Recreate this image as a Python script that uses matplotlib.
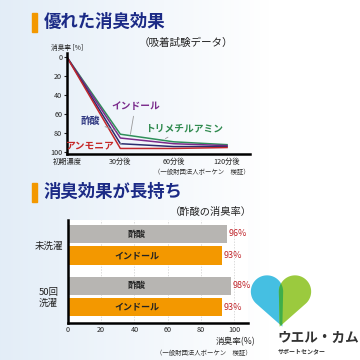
import numpy as np
import matplotlib
matplotlib.use("Agg")
import matplotlib.pyplot as plt
from matplotlib.patches import Rectangle, Polygon

plt.rcParams['font.family'] = ['Noto Sans CJK JP', 'DejaVu Sans']

# data: line chart (消臭率 %)
times = ['初期濃度', '30分後', '60分後', '120分後']
trimethylamine = [0, 81, 89, 92]
indole = [0, 85, 91, 93]
acetic = [0, 91, 94, 94]
ammonia = [0, 96, 96, 95]

# data: bar chart
groups = ['未洗濯', '50回\n洗濯']
gases = ['酢酸', 'インドール']
rates = [[96, 93], [98, 93]]

W = H = 360.0
fig = plt.figure(figsize=(3.6, 3.6), dpi=100)


def box(x0, y0, x1, y1):
    # pixel box (top-left origin) -> figure fraction
    return [x0 / W, 1 - y1 / H, (x1 - x0) / W, (y1 - y0) / H]


# background
bg = fig.add_axes([0, 0, 1, 1], zorder=-10)
grad = np.linspace(0, 1, 256)[None, :]
c0 = np.array([0.89, 0.93, 0.97])
c1 = np.array([1.0, 1.0, 1.0])
img = c0[None, None, :] * (1 - grad[..., None]) + c1[None, None, :] * grad[..., None]
bg.imshow(img, extent=[0, 270, 360, 0], aspect='auto')
bg.set_xlim(0, 360)
bg.set_ylim(360, 0)
bg.axis('off')

navy = '#1b2a86'
orange = '#f39800'
bg.add_patch(Rectangle((32, 13), 5, 19, color=orange))
bg.add_patch(Rectangle((32, 183), 5, 19, color=orange))
bg.text(44, 22, '優れた消臭効果', fontsize=12.5, fontweight='bold', color=navy, va='center')
bg.text(44, 192, '消臭効果が長持ち', fontsize=12.5, fontweight='bold', color=navy, va='center')
bg.text(139, 43, '（吸着試験データ）', fontsize=7.6, color='#222222', va='center')
bg.text(252, 212, '（酢酸の消臭率）', fontsize=7.4, color='#222222', va='center', ha='right')
bg.text(250, 172, '（一般財団法人ボーケン　検証）', fontsize=4.6, color='#333333', va='center', ha='right')
bg.text(252, 353, '（一般財団法人ボーケン　検証）', fontsize=4.6, color='#333333', va='center', ha='right')
bg.text(67, 48, '消臭率 [%]', fontsize=4.8, color='#222222', va='center', ha='center')
bg.text(255, 342, '消臭率(%)', fontsize=6.2, color='#222222', va='center', ha='right')

# ---- line chart ----
ax = fig.add_axes(box(67, 53, 250, 153.5))
ax.set_facecolor('none')
x = np.arange(len(times))
series = [
    (trimethylamine, '#2f8f5a'),
    (indole, '#7a2a8a'),
    (acetic, '#2b2d6e'),
    (ammonia, '#c1272d'),
]
for vals, col in series:
    ax.plot(x, vals, color=col, lw=1.1)
ax.set_xlim(0, 3.43)
ax.set_ylim(101.3, -4.5)
ax.set_yticks([0, 20, 40, 60, 80, 100])
ax.set_xticks(x)
ax.set_xticklabels(times)
ax.tick_params(axis='both', labelsize=5.2, length=2, width=0.8, pad=1.5, colors='#222222')
ax.tick_params(axis='x', length=0, pad=3)
for s in ['top', 'right']:
    ax.spines[s].set_visible(False)
for s in ['left', 'bottom']:
    ax.spines[s].set_linewidth(1.8)

lead = dict(arrowstyle='-', color='#999999', lw=0.6)
ax.annotate('インドール', xy=(1.18, 84), xytext=(1.28, 51), fontsize=7, fontweight='bold',
            color='#7b2c8c', ha='center', va='center', arrowprops=lead)
ax.annotate('酢酸', xy=(0.95, 78), xytext=(0.43, 67), fontsize=7, fontweight='bold',
            color='#2d3580', ha='center', va='center', arrowprops=lead)
ax.annotate('トリメチルアミン', xy=(1.8, 87), xytext=(2.2, 74.5), fontsize=7, fontweight='bold',
            color='#2f8a4e', ha='center', va='center', arrowprops=lead)
ax.annotate('アンモニア', xy=(1.02, 91), xytext=(0.43, 93), fontsize=7, fontweight='bold',
            color='#c62828', ha='center', va='center', arrowprops=lead)

# ---- bar chart ----
bx = fig.add_axes(box(68, 220, 248, 323))
bx.set_facecolor('white')
step = 2.4
bar_colors = ['#b7b5b2', orange]
for g, grp in enumerate(groups):
    for k, gas in enumerate(gases):
        y = g * step + k
        v = rates[g][k]
        bx.barh(y, v, height=0.84, color=bar_colors[k], zorder=2)
        bx.text(41.5, y, gas, fontsize=6.5, fontweight='bold', color='#222222',
                ha='center', va='center', zorder=3)
        bx.text(v + 1, y, f'{v}%', fontsize=6.5, color='#c0272d', ha='left', va='center', zorder=3)
bx.set_xlim(0, 108.4)
bx.set_ylim(3.4 + 0.74, -0.65)
bx.set_yticks([g * step + 0.5 for g in range(len(groups))])
bx.set_yticklabels(groups, fontsize=6.8, color='#222222', ha='center', linespacing=1.2)
bx.tick_params(axis='y', length=0, pad=14)
bx.set_xticks([0, 20, 40, 60, 80, 100])
bx.tick_params(axis='x', labelsize=5.2, length=0, pad=2.5, colors='#222222')
bx.grid(axis='x', color='#cccccc', ls=(0, (2, 2)), lw=0.5, zorder=0)
for s in ['top', 'right']:
    bx.spines[s].set_visible(False)
for s in ['left', 'bottom']:
    bx.spines[s].set_linewidth(1.8)

# ---- logo ----
lg = fig.add_axes(box(246, 274, 316, 328))
lg.set_xlim(-1.3, 1.3)
lg.set_ylim(-1.0, 1.0)
lg.axis('off')


def teardrop(cx, cy, r, tip):
    tx, ty = tip
    dx, dy = tx - cx, ty - cy
    d = np.hypot(dx, dy)
    base = np.arctan2(dy, dx)
    off = np.arccos(r / d)
    a = np.linspace(base + off, base + 2 * np.pi - off, 80)
    pts = np.column_stack([cx + r * np.cos(a), cy + r * np.sin(a)])
    return np.vstack([pts, [tip]])


left = Polygon(teardrop(-0.52, 0.35, 0.6, (0.05, -0.95)), color='#45bfe2', lw=0)
right = Polygon(teardrop(0.52, 0.35, 0.6, (-0.05, -0.95)), color='#9bca3e', lw=0)
lg.add_patch(left)
lg.add_patch(right)
mid = Polygon(teardrop(-0.52, 0.35, 0.6, (0.05, -0.95)), color='#3fae4a', lw=0)
lg.add_patch(mid)
mid.set_clip_path(right)

bg.text(277, 338, 'ウエル・カム', fontsize=9.8, fontweight='bold', color='#333333', va='center')
bg.text(278, 351, 'サポートセンター', fontsize=4.3, fontweight='bold', color='#333333', va='center')

fig.savefig('out.png', dpi=100)
